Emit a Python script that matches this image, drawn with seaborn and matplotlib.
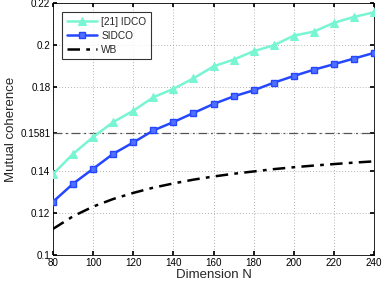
import matplotlib
matplotlib.use("Agg")
import matplotlib.pyplot as plt
import seaborn as sns
import pandas as pd

N = [80, 90, 100, 110, 120, 130, 140, 150, 160, 170, 180, 190, 200, 210, 220, 230, 240]
idco = [0.1386, 0.1482, 0.1562, 0.1633, 0.1687, 0.1751, 0.1791, 0.1841, 0.1898,
        0.1930, 0.1970, 0.1998, 0.2044, 0.2063, 0.2105, 0.2133, 0.2155]
sidco = [0.1254, 0.1340, 0.1411, 0.1482, 0.1536, 0.1593, 0.1633, 0.1676, 0.1719,
         0.1755, 0.1784, 0.1820, 0.1852, 0.1882, 0.1908, 0.1935, 0.1962]
wb = [0.1125, 0.1185, 0.1231, 0.1267, 0.1296, 0.1321, 0.1341, 0.1359, 0.1374,
      0.1387, 0.1398, 0.1409, 0.1418, 0.1426, 0.1433, 0.1440, 0.1446]
ref_level = 0.1581
yticks = [0.1, 0.12, 0.14, 0.1581, 0.18, 0.2, 0.22]
ytick_labels = ["0.1", "0.12", "0.14", "0.1581", "0.18", "0.2", "0.22"]
xticks = [80, 100, 120, 140, 160, 180, 200, 220, 240]

sns.set_theme(style="white")
plt.rcParams["font.family"] = ["Liberation Sans", "DejaVu Sans"]

df = pd.DataFrame({"N": N, "idco": idco, "sidco": sidco, "wb": wb})

fig = plt.figure(figsize=(3.82, 2.86), dpi=100)
ax = fig.add_axes([0.139, 0.108, 0.840, 0.882])

ax.axhline(ref_level, color="#555555", lw=0.9, ls=(0, (7, 3, 1.5, 3)), zorder=1)
sns.lineplot(data=df, x="N", y="idco", ax=ax, color="#78F5D2", lw=1.8,
             marker="^", markersize=6, markeredgecolor="#78F5D2",
             label="[21] IDCO", zorder=3)
sns.lineplot(data=df, x="N", y="sidco", ax=ax, color="#2447FF", lw=1.8,
             marker="s", markersize=5, markerfacecolor="#5070FF",
             markeredgecolor="#2447FF", markeredgewidth=1.0,
             label="SIDCO", zorder=3)
sns.lineplot(data=df, x="N", y="wb", ax=ax, color="black", lw=1.8,
             ls=(0, (5, 2.5, 1.5, 2.5)), label="WB", zorder=3)

ax.set_xlim(80, 240)
ax.set_ylim(0.1, 0.22)
ax.set_xticks(xticks)
ax.set_xticklabels([str(v) for v in xticks])
ax.set_yticks(yticks)
ax.set_yticklabels(ytick_labels)
ax.grid(True, color="#999999", ls=(0, (1, 2.5)), lw=0.6)
ax.tick_params(axis="both", labelsize=7.1, length=3, direction="in",
               colors="black", pad=2, left=True, bottom=True, top=True, right=True)
for s in ax.spines.values():
    s.set_color("black")
    s.set_linewidth(0.6)
ax.set_xlabel("Dimension N", fontsize=9.5, labelpad=1)
ax.set_ylabel("Mutual coherence", fontsize=9.5, labelpad=2)

leg = ax.legend(loc="upper left", bbox_to_anchor=(0.028, 0.964), fontsize=7.3,
                frameon=True, fancybox=False, edgecolor="black",
                handlelength=3.0, borderpad=0.45, labelspacing=0.4,
                handletextpad=0.4, borderaxespad=0)
leg.get_frame().set_linewidth(0.8)

fig.savefig("out.png", dpi=100)
